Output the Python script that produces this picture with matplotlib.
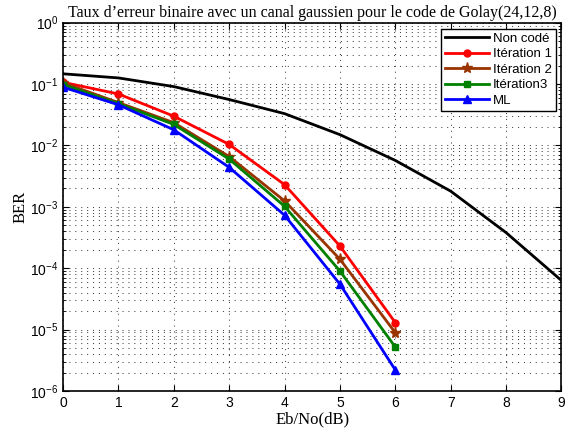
import matplotlib
matplotlib.use("Agg")
import matplotlib.pyplot as plt
from matplotlib.ticker import LogLocator, NullFormatter

# Eb/No en dB
snr_uncoded = [0, 1, 2, 3, 4, 5, 6, 7, 8, 9]
snr_coded = [0, 1, 2, 3, 4, 5, 6]

ber_uncoded = [0.147, 0.126, 0.091, 0.056, 0.033, 0.015, 0.0057, 0.0018, 3.8e-4, 6.3e-5]
ber_iter1 = [0.107, 0.069, 0.030, 0.0104, 0.0023, 2.3e-4, 1.3e-5]
ber_iter2 = [0.105, 0.050, 0.0235, 0.0066, 0.00125, 1.4e-4, 8.9e-6]
ber_iter3 = [0.098, 0.048, 0.022, 0.0060, 0.00102, 9.0e-5, 5.2e-6]
ber_ml = [0.089, 0.046, 0.018, 0.0044, 7.3e-4, 5.5e-5, 2.2e-6]

labels = ["Non codé", "Itération 1", "Itération 2", "Itération3", "ML"]

plt.rcParams["font.family"] = ["Liberation Sans", "DejaVu Sans"]
plt.rcParams["mathtext.fontset"] = "custom"
plt.rcParams["mathtext.rm"] = "Liberation Sans"
plt.rcParams["mathtext.it"] = "Liberation Sans:italic"
plt.rcParams["lines.scale_dashes"] = False

fig = plt.figure(figsize=(5.76, 4.34), dpi=100)
ax = fig.add_axes([0.1094, 0.0991, 0.8654, 0.8486])

lw = 2.0
ax.semilogy(snr_uncoded, ber_uncoded, color="black", lw=lw, label=labels[0])
ax.semilogy(snr_coded, ber_iter1, color="red", lw=lw, marker="o", ms=5, label=labels[1])
ax.semilogy(snr_coded, ber_iter2, color="#993300", lw=lw, marker="*", ms=8, label=labels[2])
ax.semilogy(snr_coded, ber_iter3, color="#008000", lw=lw, marker="s", ms=5, label=labels[3])
ax.semilogy(snr_coded, ber_ml, color="blue", lw=lw, marker="^", ms=6, label=labels[4])

ax.set_xlim(0, 9)
ax.set_ylim(1e-6, 1)
ax.set_xticks(range(10))
ax.yaxis.set_major_locator(LogLocator(base=10, numticks=10))
ax.yaxis.set_minor_locator(LogLocator(base=10, subs=range(2, 10), numticks=20))
ax.yaxis.set_minor_formatter(NullFormatter())

grid_style = dict(ls=(0, (0.75, 3.5)), color="#444444", lw=0.75)
ax.grid(True, which="major", **grid_style)
ax.grid(True, which="minor", axis="y", **grid_style)
ax.tick_params(which="both", direction="in", top=True, right=True, labelsize=10)
ax.tick_params(which="major", length=4)
ax.tick_params(which="minor", length=2)
for s in ax.spines.values():
    s.set_linewidth(1.2)

serif = ["Liberation Serif", "DejaVu Serif"]
ax.set_title("Taux d\u2019erreur binaire avec un canal gaussien pour le code de Golay(24,12,8)",
             family=serif, fontsize=11.5, pad=4)
ax.set_xlabel("Eb/No(dB)", family=serif, fontsize=12, labelpad=1)
ax.set_ylabel("BER", family=serif, fontsize=12, labelpad=1)

leg = ax.legend(loc="upper right", fontsize=9.5, handlelength=3.3, borderaxespad=0.45,
                fancybox=False, framealpha=1, edgecolor="black",
                labelspacing=0.25, handletextpad=0.3, borderpad=0.3)
leg.get_frame().set_linewidth(1.0)

fig.savefig("out.png", dpi=100)
